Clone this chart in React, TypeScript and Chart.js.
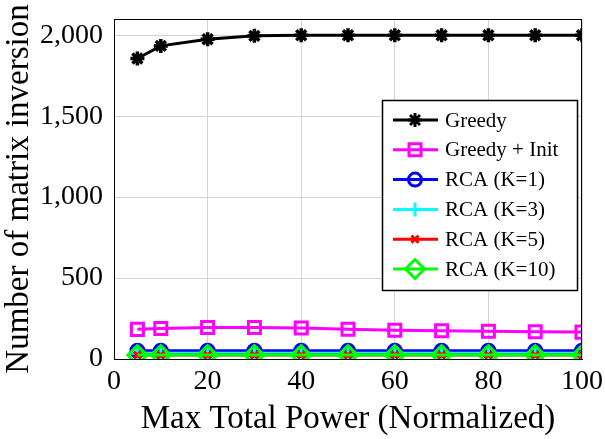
import React, { useEffect, useRef } from "react";
import { Chart, registerables } from "chart.js";
import { drawPoint } from "chart.js/helpers";

Chart.register(...registerables);

const xValues = [5, 10, 20, 30, 40, 50, 60, 70, 80, 90, 100];
const greedy = [1856, 1934, 1975, 1996, 2000, 2000, 2000, 2000, 2000, 2000, 2000];
const greedyInit = [183, 189, 195, 195, 191, 184, 178, 175, 172, 168, 166];
const rcaK1 = [51, 51, 51, 51, 51, 51, 51, 51, 51, 51, 51];
const rcaK3 = [36, 36, 36, 36, 36, 36, 36, 36, 36, 36, 36];
const rcaK5 = [24, 24, 24, 24, 24, 24, 24, 24, 24, 24, 24];
const rcaK10 = [24, 24, 24, 24, 24, 24, 24, 24, 24, 24, 24];

const seriesNames = ["Greedy", "Greedy + Init", "RCA (K=1)", "RCA (K=3)", "RCA (K=5)", "RCA (K=10)"];
const xTicks = [0, 20, 40, 60, 80, 100];
const yTicks = [0, 500, 1000, 1500, 2000];

const FONT = "'Liberation Serif', 'Times New Roman', 'DejaVu Serif', serif";

export default function App() {
  const ref = useRef<HTMLCanvasElement | null>(null);

  useEffect(() => {
    document.body.style.margin = "0";
    const canvas = ref.current;
    if (!canvas) return;

    const styles = [
      { color: "#000000", pointStyle: "star", radius: 7, bw: 3.5 },
      { color: "#ff00ff", pointStyle: "rect", radius: 8.5, bw: 3 },
      { color: "#0000ff", pointStyle: "circle", radius: 6.5, bw: 3 },
      { color: "#00ffff", pointStyle: "cross", radius: 7, bw: 3 },
      { color: "#ff0000", pointStyle: "crossRot", radius: 5, bw: 3 },
      { color: "#00ff00", pointStyle: "rectRot", radius: 9.5, bw: 3 },
    ];
    const seriesData = [greedy, greedyInit, rcaK1, rcaK3, rcaK5, rcaK10];

    const datasets = seriesData.map((vals, i) => ({
      label: seriesNames[i],
      data: vals.map((v, j) => ({ x: xValues[j], y: v })),
      borderColor: styles[i].color,
      backgroundColor: "rgba(0,0,0,0)",
      borderWidth: 3,
      pointStyle: styles[i].pointStyle as any,
      pointRadius: styles[i].radius,
      pointBorderWidth: styles[i].bw,
      pointBorderColor: styles[i].color,
      pointBackgroundColor: "rgba(0,0,0,0)",
      order: 5 - i,
      tension: 0,
    }));

    const framePlugin = {
      id: "frameAndLegend",
      afterDraw(chart: any) {
        const { ctx, chartArea } = chart;
        ctx.save();
        ctx.strokeStyle = "#000";
        ctx.lineWidth = 1;
        ctx.strokeRect(chartArea.left + 0.5, chartArea.top + 0.5, chartArea.right - chartArea.left - 1, chartArea.bottom - chartArea.top);

        // legend
        const lx = chartArea.right - 200;
        const ly = chartArea.top + 81;
        const lw = 195;
        const lh = 190;
        ctx.fillStyle = "#fff";
        ctx.fillRect(lx, ly, lw, lh);
        ctx.strokeStyle = "#000";
        ctx.lineWidth = 1.5;
        ctx.strokeRect(lx + 0.5, ly + 0.5, lw, lh);
        ctx.font = `21px ${FONT}`;
        ctx.textBaseline = "middle";
        ctx.textAlign = "left";
        for (let i = 0; i < seriesNames.length; i++) {
          const cy = ly + 20 + i * 29.8;
          const s = styles[i];
          ctx.strokeStyle = s.color;
          ctx.lineWidth = 3;
          ctx.beginPath();
          ctx.moveTo(lx + 11, cy);
          ctx.lineTo(lx + 56, cy);
          ctx.stroke();
          ctx.fillStyle = "rgba(0,0,0,0)";
          drawPoint(ctx, { pointStyle: s.pointStyle as any, radius: s.radius, borderWidth: s.bw, rotation: 0 } as any, lx + 33, cy);
          ctx.fillStyle = "#000";
          ctx.fillText(seriesNames[i], lx + 63, cy + 1);
        }
        ctx.restore();
      },
    };

    const chart = new Chart(canvas, {
      type: "line",
      data: { datasets: datasets as any },
      options: {
        animation: false,
        responsive: false,
        devicePixelRatio: 1,
        layout: { padding: { top: 19, right: 23, left: 0, bottom: 0 } },
        plugins: { legend: { display: false }, tooltip: { enabled: false } },
        scales: {
          x: {
            type: "linear",
            min: 0,
            max: 100,
            afterFit: (s: any) => { s.height = 80; },
            afterBuildTicks: (s: any) => { s.ticks = xTicks.map((v) => ({ value: v })); },
            grid: { color: "#d4d4d4", lineWidth: 1, drawTicks: true, tickLength: 6, tickColor: "rgba(0,0,0,0)" },
            border: { color: "#000", width: 1 },
            ticks: {
              color: "#000",
              padding: 0,
              font: { family: FONT, size: 28 },
              maxRotation: 0,
              callback: (v: any) => String(v),
            },
            title: {
              display: true,
              text: "Max Total Power (Normalized)",
              color: "#000",
              font: { family: FONT, size: 33 },
              padding: 0,
            },
          },
          y: {
            type: "linear",
            min: 0,
            max: 2100,
            afterFit: (s: any) => { s.width = 114; },
            afterBuildTicks: (s: any) => { s.ticks = yTicks.map((v) => ({ value: v })); },
            grid: { color: "#d4d4d4", lineWidth: 1, drawTicks: true, tickLength: 11, tickColor: "rgba(0,0,0,0)" },
            border: { color: "#000", width: 1 },
            ticks: {
              color: "#000",
              padding: 0,
              font: { family: FONT, size: 28 },
              callback: (v: any) => Number(v).toLocaleString("en-US"),
            },
            title: {
              display: true,
              text: "Number of matrix inversion",
              color: "#000",
              font: { family: FONT, size: 33 },
              padding: 0,
            },
          },
        },
      },
      plugins: [framePlugin],
    });

    return () => chart.destroy();
  }, []);

  return (
    <div style={{ width: 605, height: 439 }}>
      <canvas ref={ref} width={605} height={439} style={{ display: "block" }} />
    </div>
  );
}
